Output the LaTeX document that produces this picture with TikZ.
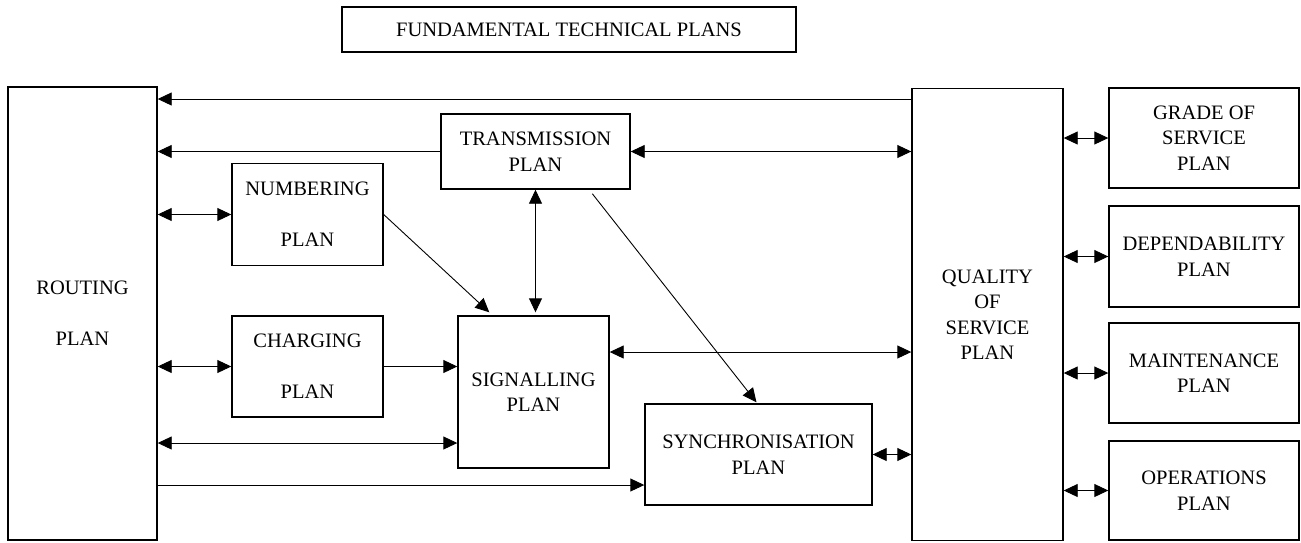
\documentclass[tikz,border=0pt]{standalone}
\usepackage{fontspec}
\setmainfont{Liberation Serif}
\usetikzlibrary{arrows.meta,calc}
\begin{document}
\begin{tikzpicture}[x=1pt,y=-1pt,
  box/.style={draw, line width=1.4pt, inner sep=0pt, align=center,
    font=\fontsize{20.5}{25.5}\selectfont},
  link/.style={line width=0.9pt},
  >={Triangle[length=14pt,width=13pt]}]
\useasboundingbox (0,0) rectangle (1301,542);

% heading
\node[box, minimum width=454pt, minimum height=45pt] (title) at (569,29.5) {FUNDAMENTAL TECHNICAL PLANS};

% outer plans
\node[box, minimum width=149pt, minimum height=453pt] (routing) at (82.5,313.5) {ROUTING\\[25.5pt]PLAN};
\node[box, minimum width=151pt, minimum height=452pt] (qos) at (987.5,314.5) {QUALITY\\OF\\SERVICE\\PLAN};

% right column
\node[box, minimum width=190pt, minimum height=100pt] (grade) at (1204,138) {GRADE OF\\SERVICE\\PLAN};
\node[box, minimum width=190pt, minimum height=101pt] (dep) at (1204,256.5) {DEPENDABILITY\\PLAN};
\node[box, minimum width=190pt, minimum height=100pt] (maint) at (1204,373) {MAINTENANCE\\PLAN};
\node[box, minimum width=190pt, minimum height=99pt] (oper) at (1204,490.5) {OPERATIONS\\PLAN};

% inner plans
\node[box, minimum width=189pt, minimum height=75pt] (trans) at (535.5,151.5) {TRANSMISSION\\PLAN};
\node[box, minimum width=151pt, minimum height=102pt] (numb) at (307.5,214.5) {NUMBERING\\[25.5pt]PLAN};
\node[box, minimum width=151pt, minimum height=101pt] (charg) at (307.5,366.5) {CHARGING\\[25.5pt]PLAN};
\node[box, minimum width=151pt, minimum height=152pt] (sig) at (533.5,392) {SIGNALLING\\PLAN};
\node[box, minimum width=227pt, minimum height=101pt] (synch) at (758.5,454.5) {SYNCHRONISATION\\PLAN};

% rows used by connectors that do not meet a node centre
\coordinate (rowTop) at (0,99);
\coordinate (rowSig) at (0,352);
\coordinate (rowRS) at (0,443);
\coordinate (rowSync) at (0,485);

% connectors
\draw[link,->] (qos.west |- rowTop) -- (routing.east |- rowTop);
\draw[link,->] (trans.west) -- (routing.east |- trans.west);
\draw[link,<->] (trans.east) -- (qos.west |- trans.east);
\draw[link,<->] (routing.east |- numb.west) -- (numb.west);
\draw[link,->] (numb.east) -- ($(sig.north west)+(32,-3)$);
\draw[link,<->,shorten >=3pt] (trans.south) -- (trans.south |- sig.north);
\draw[link,->] ($(trans.south west)+(152,4)$) -- ($(synch.north)+(-2,-1)$);
\draw[link,<->] (sig.east |- rowSig) -- (qos.west |- rowSig);
\draw[link,<->] (routing.east |- charg.west) -- (charg.west);
\draw[link,->] (charg.east) -- (sig.west |- charg.east);
\draw[link,<->] (routing.east |- rowRS) -- (sig.west |- rowRS);
\draw[link,->] (routing.east |- rowSync) -- (synch.west |- rowSync);
\draw[link,<->] (synch.east) -- (qos.west |- synch.east);
\foreach \n in {grade,dep,maint,oper}
  \draw[link,<->] (qos.east |- \n.west) -- (\n.west);
\end{tikzpicture}
\end{document}
